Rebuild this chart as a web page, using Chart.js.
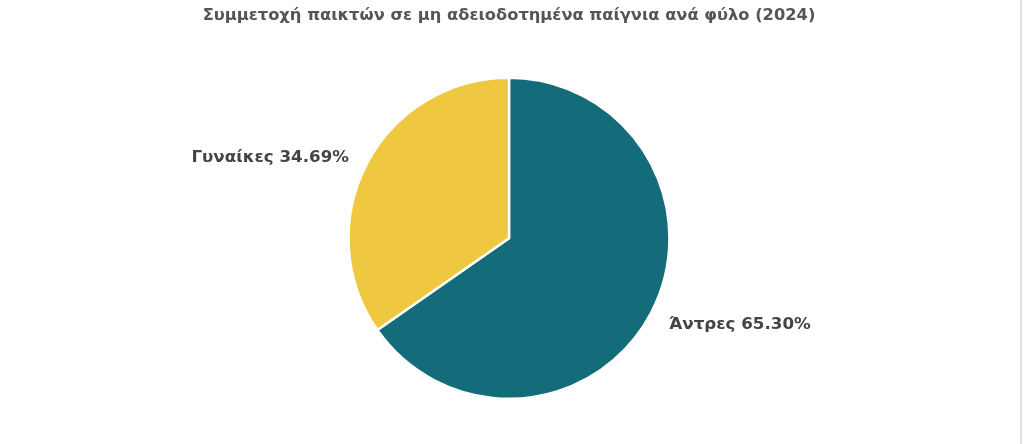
<!DOCTYPE html>
<html>
<head>
<meta charset="utf-8">
<script src="https://cdn.jsdelivr.net/npm/chart.js@4.4.1/dist/chart.umd.min.js"></script>
<style>
  html, body { margin: 0; padding: 0; background: #ffffff; overflow: hidden; }
  #wrap { position: relative; width: 1020px; height: 444px; border-right: 2px solid #e3e3e3; }
</style>
</head>
<body>
<div id="wrap"><canvas id="c"></canvas></div>
<script>
const titleText = 'Συμμετοχή παικτών σε μη αδειοδοτημένα παίγνια ανά φύλο (2024)';
const categories = ['Άντρες', 'Γυναίκες'];
const values = [65.30, 34.69];
const sliceColors = ['#146C7B', '#F0C741'];

Chart.defaults.font.family = "'DejaVu Sans', sans-serif";

const outsideLabels = {
  id: 'outsideLabels',
  afterDatasetsDraw(chart) {
    const ctx = chart.ctx;
    const meta = chart.getDatasetMeta(0);
    ctx.save();
    ctx.font = "bold 16.7px 'DejaVu Sans', sans-serif";
    ctx.fillStyle = '#444444';
    ctx.textBaseline = 'middle';
    meta.data.forEach((arc, i) => {
      const mid = (arc.startAngle + arc.endAngle) / 2;
      const r = arc.outerRadius + 20;
      const x = arc.x + Math.cos(mid) * r;
      const y = arc.y + Math.sin(mid) * r + 3;
      ctx.textAlign = Math.cos(mid) >= 0 ? 'left' : 'right';
      ctx.fillText(categories[i] + ' ' + values[i].toFixed(2) + '%', x, y);
    });
    ctx.restore();
  }
};

new Chart(document.getElementById('c'), {
  type: 'pie',
  data: {
    labels: categories,
    datasets: [{
      data: values,
      backgroundColor: sliceColors,
      borderColor: '#ffffff',
      borderWidth: 2.5
    }]
  },
  options: {
    responsive: true,
    maintainAspectRatio: false,
    animation: false,
    layout: { padding: { top: 0, bottom: 44, left: 0, right: 2 } },
    plugins: {
      legend: { display: false },
      tooltip: { enabled: false },
      title: {
        display: true,
        text: titleText,
        color: '#555555',
        font: { size: 16.3, weight: 'bold' },
        padding: { top: 6, bottom: 51 }
      }
    }
  },
  plugins: [outsideLabels]
});
</script>
</body>
</html>
